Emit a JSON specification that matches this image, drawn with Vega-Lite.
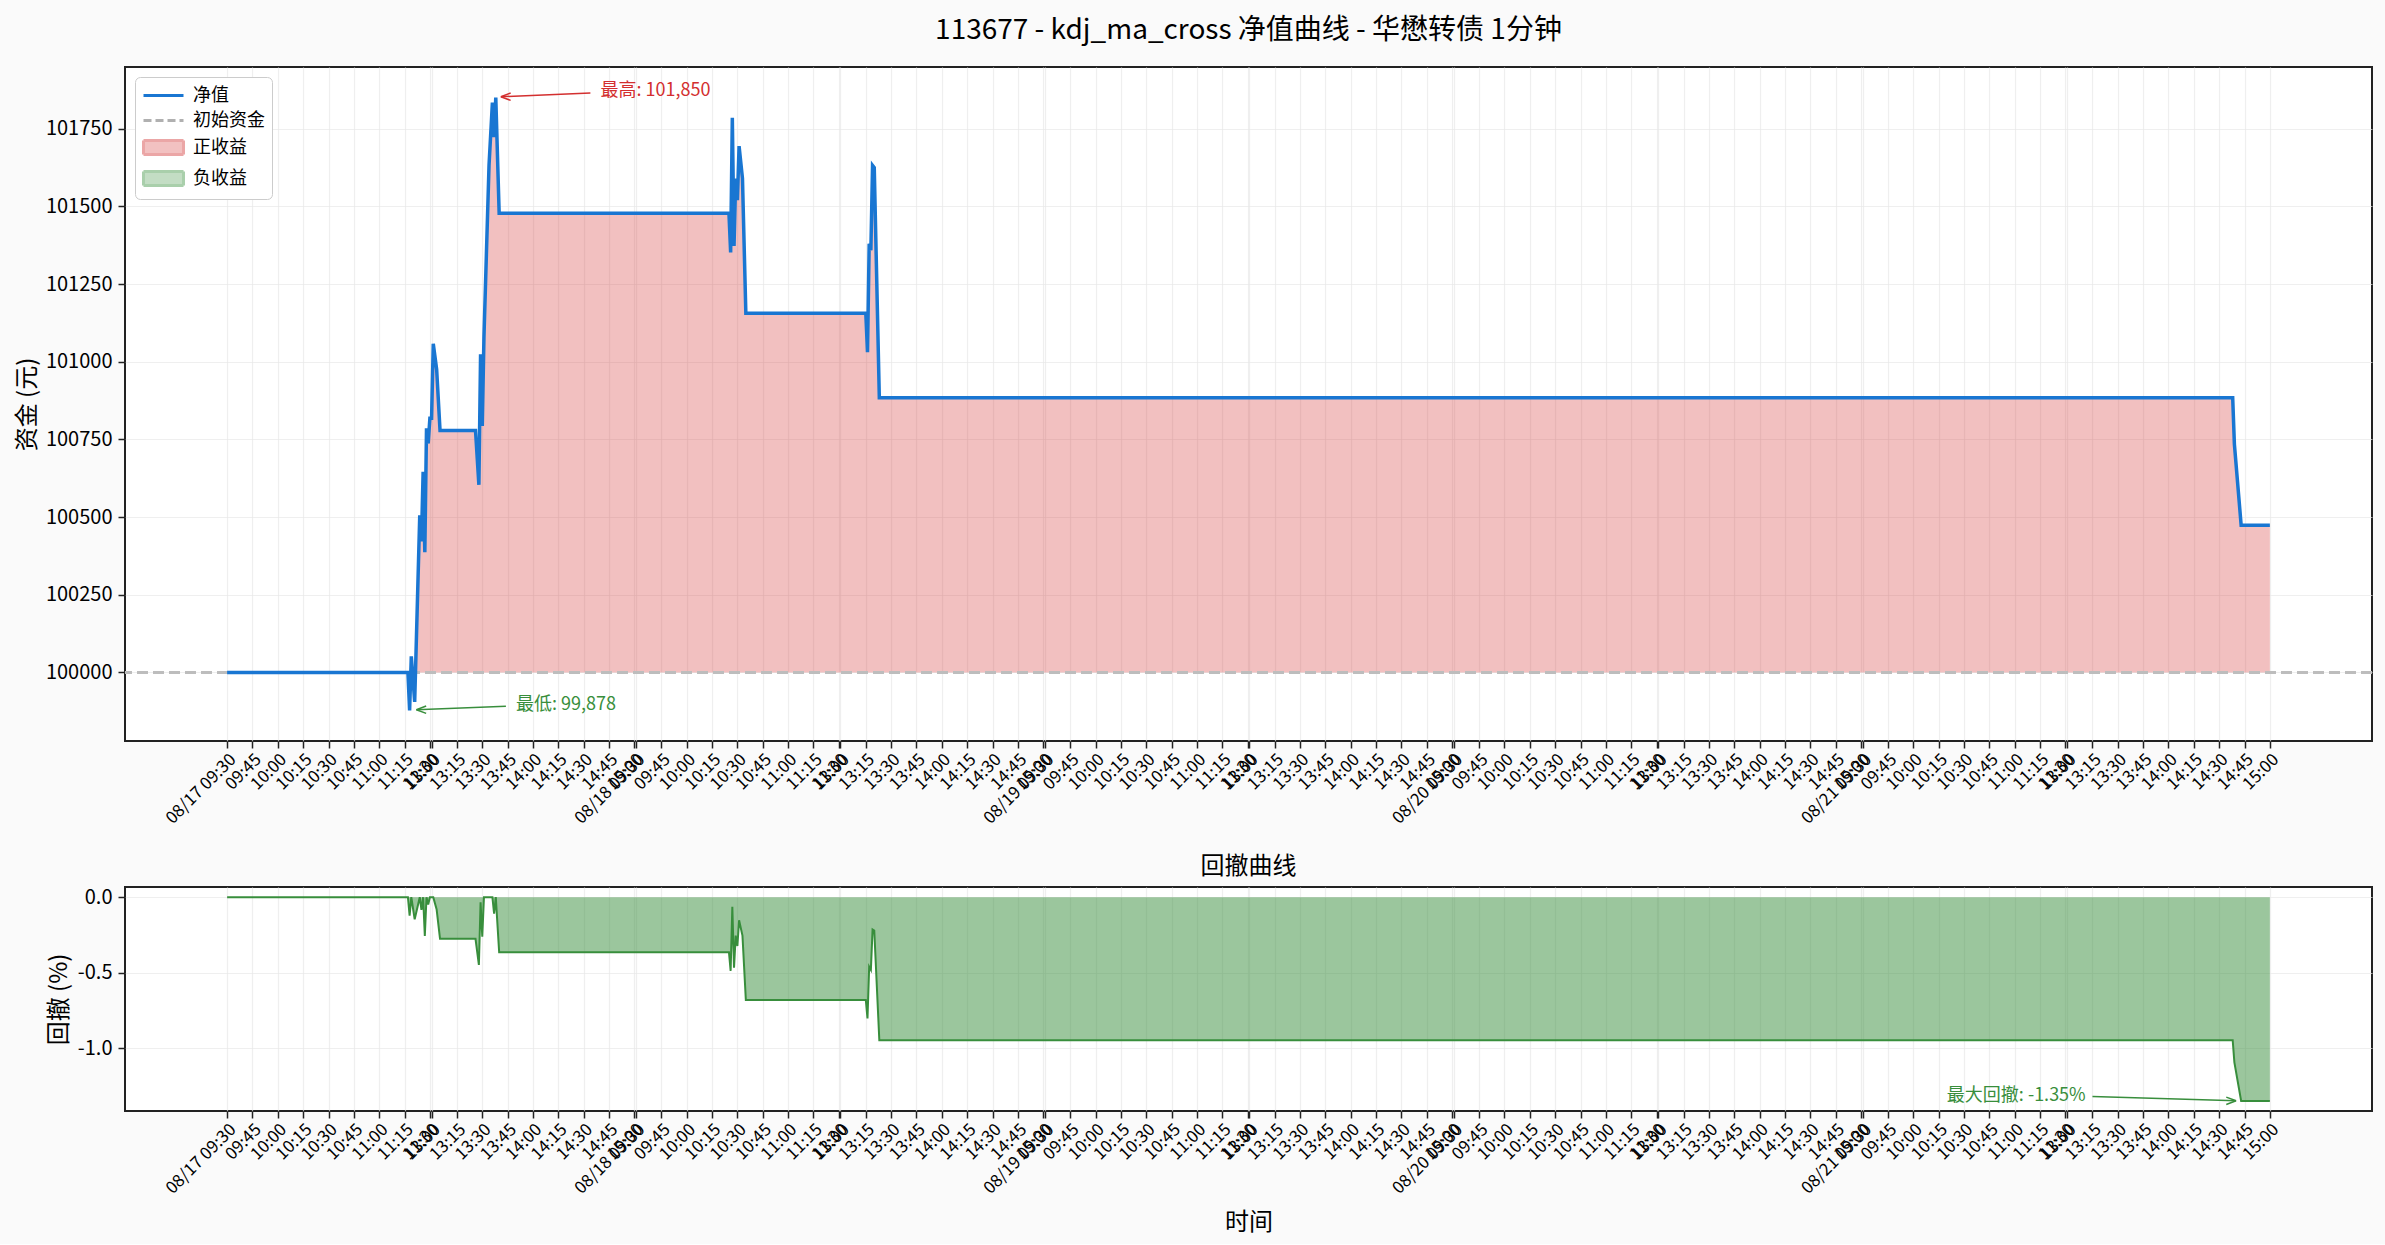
{
  "$schema": "https://vega.github.io/schema/vega-lite/v6.json",
  "background": "#fafafa",
  "padding": {"left": 14, "top": 16, "right": 15, "bottom": 8},
  "datasets": {
    "nav": [
      {"i": 0, "v": 100000, "dd": 0},
      {"i": 107, "v": 100000, "dd": 0},
      {"i": 108, "v": 99878, "dd": -0.122},
      {"i": 109, "v": 100052, "dd": 0},
      {"i": 111, "v": 99905, "dd": -0.147},
      {"i": 114, "v": 100506, "dd": 0},
      {"i": 115, "v": 100422, "dd": -0.084},
      {"i": 116, "v": 100646, "dd": 0},
      {"i": 117, "v": 100387, "dd": -0.257},
      {"i": 118, "v": 100786, "dd": 0},
      {"i": 119, "v": 100737, "dd": -0.049},
      {"i": 120, "v": 100818, "dd": 0},
      {"i": 121, "v": 100818, "dd": 0},
      {"i": 122, "v": 101058, "dd": 0},
      {"i": 124, "v": 100975, "dd": -0.082},
      {"i": 126, "v": 100779, "dd": -0.276},
      {"i": 147, "v": 100779, "dd": -0.276},
      {"i": 149, "v": 100604, "dd": -0.449},
      {"i": 150, "v": 101024, "dd": -0.034},
      {"i": 151, "v": 100793, "dd": -0.262},
      {"i": 152, "v": 101080, "dd": 0},
      {"i": 155, "v": 101632, "dd": 0},
      {"i": 157, "v": 101834, "dd": 0},
      {"i": 158, "v": 101723, "dd": -0.109},
      {"i": 159, "v": 101850, "dd": 0},
      {"i": 161, "v": 101478, "dd": -0.365},
      {"i": 297, "v": 101478, "dd": -0.365},
      {"i": 298, "v": 101352, "dd": -0.489},
      {"i": 299, "v": 101785, "dd": -0.064},
      {"i": 300, "v": 101373, "dd": -0.468},
      {"i": 301, "v": 101590, "dd": -0.255},
      {"i": 302, "v": 101520, "dd": -0.324},
      {"i": 303, "v": 101694, "dd": -0.153},
      {"i": 305, "v": 101590, "dd": -0.255},
      {"i": 307, "v": 101156, "dd": -0.681},
      {"i": 378, "v": 101156, "dd": -0.681},
      {"i": 379, "v": 101031, "dd": -0.804},
      {"i": 380, "v": 101380, "dd": -0.461},
      {"i": 381, "v": 101359, "dd": -0.482},
      {"i": 382, "v": 101632, "dd": -0.214},
      {"i": 383, "v": 101625, "dd": -0.221},
      {"i": 386, "v": 100884, "dd": -0.948},
      {"i": 1187, "v": 100884, "dd": -0.948},
      {"i": 1188, "v": 100735, "dd": -1.095},
      {"i": 1192, "v": 100474, "dd": -1.351},
      {"i": 1209, "v": 100474, "dd": -1.351}
    ],
    "keys": [
      {"k": "净值"},
      {"k": "初始资金"},
      {"k": "正收益"},
      {"k": "负收益"}
    ]
  },
  "spacing": 146,
  "bounds": "flush",
  "vconcat": [
    {
      "width": 2247,
      "height": 674,
      "title": {"text": "113677 - kdj_ma_cross 净值曲线 - 华懋转债 1分钟", "fontSize": 28, "anchor": "middle", "frame": "group", "offset": 22},
      "data": {"name": "nav"},
      "encoding": {
        "x": {
          "field": "i", "type": "quantitative",
          "scale": {"domain": [-60.45, 1269.45], "nice": false, "zero": false},
          "axis": {
            "title": null,
            "values": [0,15,30,45,60,75,90,105,120,121,136,151,166,181,196,211,226,241,242,257,272,287,302,317,332,347,362,363,378,393,408,423,438,453,468,483,484,499,514,529,544,559,574,589,604,605,620,635,650,665,680,695,710,725,726,741,756,771,786,801,816,831,846,847,862,877,892,907,922,937,952,967,968,983,998,1013,1028,1043,1058,1073,1088,1089,1104,1119,1134,1149,1164,1179,1194,1209],
            "labelExpr": "(datum.value % 242 == 0 ? '08/' + (17 + floor(datum.value / 242)) + ' ' : '') + timeFormat(datetime(2024, 0, 1, 0, datum.value % 242 <= 120 ? 570 + datum.value % 242 : 659 + datum.value % 242), '%H:%M')",
            "labelAngle": -45, "labelAlign": "right", "labelBaseline": "top",
            "labelFontSize": 17, "labelOverlap": false, "labelFlush": false, "labelBound": false, "labelPadding": 3
          }
        },
        "y": {
          "field": "v", "type": "quantitative",
          "scale": {"domain": [99779.4, 101948.6], "nice": false, "zero": false},
          "axis": {"title": "资金 (元)", "values": [100000, 100250, 100500, 100750, 101000, 101250, 101500, 101750], "format": "d", "labelFontSize": 20, "titlePadding": 6}
        }
      },
      "layer": [
        {
          "mark": {"type": "area", "color": "#d32f2f", "opacity": 0.3},
          "encoding": {"y2": {"datum": 100000}}
        },
        {
          "mark": {"type": "rule", "color": "#bdbdbd", "strokeDash": [11, 5], "strokeWidth": 3},
          "encoding": {"x": null, "y": {"datum": 100000}}
        },
        {
          "mark": {"type": "line", "color": "#1976d2", "strokeWidth": 3.5}
        },
        {
          "data": {"name": "keys"},
          "mark": {"type": "point", "opacity": 0},
          "encoding": {
            "x": {"datum": 0},
            "y": {"datum": 100000},
            "fill": {
              "field": "k", "type": "nominal",
              "scale": {"domain": ["净值", "初始资金", "正收益", "负收益"], "range": ["transparent", "transparent", "#f2c1c1", "#c3ddc4"]},
              "legend": {
                "title": null, "orient": "top-left", "offset": 10, "padding": 7, "rowPadding": 4,
                "labelFontSize": 18, "labelColor": "#000000", "labelOffset": 28,
                "strokeColor": "#cccccc", "fillColor": "#ffffff", "cornerRadius": 5,
                "symbolSize": 400, "symbolOpacity": 1, "symbolStrokeWidth": 3
              }
            },
            "stroke": {
              "field": "k", "type": "nominal",
              "scale": {"domain": ["净值", "初始资金", "正收益", "负收益"], "range": ["#1976d2", "#b0b0b0", "#eba6a6", "#a9cfab"]},
              "legend": {
                "title": null, "orient": "top-left", "offset": 10, "padding": 7, "rowPadding": 4,
                "labelFontSize": 18, "labelColor": "#000000", "labelOffset": 28,
                "strokeColor": "#cccccc", "fillColor": "#ffffff", "cornerRadius": 5,
                "symbolSize": 400, "symbolOpacity": 1, "symbolStrokeWidth": 3
              }
            },
            "shape": {
              "field": "k", "type": "nominal",
              "scale": {"domain": ["净值", "初始资金", "正收益", "负收益"], "range": ["M-1,0H3", "M-1,0H3", "M-1,-0.7H3V0.7H-1Z", "M-1,-0.7H3V0.7H-1Z"]},
              "legend": {
                "title": null, "orient": "top-left", "offset": 10, "padding": 7, "rowPadding": 4,
                "labelFontSize": 18, "labelColor": "#000000", "labelOffset": 28,
                "strokeColor": "#cccccc", "fillColor": "#ffffff", "cornerRadius": 5,
                "symbolSize": 400, "symbolOpacity": 1, "symbolStrokeWidth": 3
              }
            },
            "strokeDash": {
              "field": "k", "type": "nominal",
              "scale": {"domain": ["净值", "初始资金", "正收益", "负收益"], "range": [[1, 0], [8, 4], [1, 0], [1, 0]]},
              "legend": {
                "title": null, "orient": "top-left", "offset": 10, "padding": 7, "rowPadding": 4,
                "labelFontSize": 18, "labelColor": "#000000", "labelOffset": 28,
                "strokeColor": "#cccccc", "fillColor": "#ffffff", "cornerRadius": 5,
                "symbolSize": 400, "symbolOpacity": 1, "symbolStrokeWidth": 3
              }
            }
          }
        },
        {
          "data": {"values": [{"i": 221, "v": 101870, "t": "最高: 101,850"}]},
          "mark": {"type": "text", "align": "left", "baseline": "middle", "fontSize": 18, "color": "#d32f2f"},
          "encoding": {"text": {"field": "t"}}
        },
        {
          "data": {"values": [{"i": 215, "v": 101865, "i2": 162, "v2": 101853}]},
          "mark": {"type": "rule", "color": "#d32f2f", "strokeWidth": 1.5},
          "encoding": {"x2": {"field": "i2"}, "y2": {"field": "v2"}}
        },
        {
          "data": {"values": [{"i": 162, "v": 101853}]},
          "mark": {"type": "point", "shape": "M0,0L1.6,-0.6M0,0L1.6,0.6", "filled": false, "size": 150, "strokeWidth": 1.5, "color": "#d32f2f", "opacity": 1}
        },
        {
          "data": {"values": [{"i": 171, "v": 99894, "t": "最低: 99,878"}]},
          "mark": {"type": "text", "align": "left", "baseline": "middle", "fontSize": 18, "color": "#388e3c"},
          "encoding": {"text": {"field": "t"}}
        },
        {
          "data": {"values": [{"i": 165, "v": 99891, "i2": 112, "v2": 99880}]},
          "mark": {"type": "rule", "color": "#388e3c", "strokeWidth": 1.5},
          "encoding": {"x2": {"field": "i2"}, "y2": {"field": "v2"}}
        },
        {
          "data": {"values": [{"i": 112, "v": 99880}]},
          "mark": {"type": "point", "shape": "M0,0L1.6,-0.6M0,0L1.6,0.6", "filled": false, "size": 150, "strokeWidth": 1.5, "color": "#388e3c", "opacity": 1}
        }
      ]
    },
    {
      "width": 2247,
      "height": 224,
      "title": {"text": "回撤曲线", "fontSize": 24, "anchor": "middle", "frame": "group", "offset": 8},
      "data": {"name": "nav"},
      "encoding": {
        "x": {
          "field": "i", "type": "quantitative",
          "scale": {"domain": [-60.45, 1269.45], "nice": false, "zero": false},
          "axis": {
            "title": "时间", "titleFontSize": 24, "titlePadding": 14,
            "values": [0,15,30,45,60,75,90,105,120,121,136,151,166,181,196,211,226,241,242,257,272,287,302,317,332,347,362,363,378,393,408,423,438,453,468,483,484,499,514,529,544,559,574,589,604,605,620,635,650,665,680,695,710,725,726,741,756,771,786,801,816,831,846,847,862,877,892,907,922,937,952,967,968,983,998,1013,1028,1043,1058,1073,1088,1089,1104,1119,1134,1149,1164,1179,1194,1209],
            "labelExpr": "(datum.value % 242 == 0 ? '08/' + (17 + floor(datum.value / 242)) + ' ' : '') + timeFormat(datetime(2024, 0, 1, 0, datum.value % 242 <= 120 ? 570 + datum.value % 242 : 659 + datum.value % 242), '%H:%M')",
            "labelAngle": -45, "labelAlign": "right", "labelBaseline": "top",
            "labelFontSize": 17, "labelOverlap": false, "labelFlush": false, "labelBound": false, "labelPadding": 3
          }
        },
        "y": {
          "field": "dd", "type": "quantitative",
          "scale": {"domain": [-1.4175, 0.0675], "nice": false, "zero": false},
          "axis": {"title": "回撤 (%)", "values": [-1, -0.5, 0], "labelExpr": "replace(format(datum.value, '.1f'), '\u2212', '-')", "labelFontSize": 20, "titlePadding": 6}
        }
      },
      "layer": [
        {
          "mark": {"type": "area", "color": "#388e3c", "opacity": 0.5},
          "encoding": {"y2": {"datum": 0}}
        },
        {
          "mark": {"type": "line", "color": "#388e3c", "strokeWidth": 2}
        },
        {
          "data": {"values": [{"i": 1100, "dd": -1.318, "t": "最大回撤: -1.35%"}]},
          "mark": {"type": "text", "align": "right", "baseline": "middle", "fontSize": 18, "color": "#388e3c"},
          "encoding": {"text": {"field": "t"}}
        },
        {
          "data": {"values": [{"i": 1104, "dd": -1.321, "i2": 1189, "d2": -1.35}]},
          "mark": {"type": "rule", "color": "#388e3c", "strokeWidth": 1.5},
          "encoding": {"x2": {"field": "i2"}, "y2": {"field": "d2"}}
        },
        {
          "data": {"values": [{"i": 1189, "dd": -1.35}]},
          "mark": {"type": "point", "shape": "M0,0L-1.6,-0.6M0,0L-1.6,0.6", "filled": false, "size": 150, "strokeWidth": 1.5, "color": "#388e3c", "opacity": 1}
        }
      ]
    }
  ],
  "config": {
    "font": "Noto Sans CJK SC",
    "view": {"fill": "#ffffff", "stroke": "#222222", "strokeWidth": 2},
    "axis": {
      "labelFont": "Noto Sans CJK SC", "labelColor": "#000000", "titleFont": "Noto Sans CJK SC",
      "titleColor": "#000000", "titleFontWeight": "normal", "titleFontSize": 24,
      "tickColor": "#222222", "tickSize": 7, "tickWidth": 1.5, "domain": false,
      "grid": true, "gridColor": "#e8e8e8", "gridOpacity": 0.7, "gridWidth": 1.2,
      "zindex": 1, "labelPadding": 6
    },
    "legend": {"labelFont": "Noto Sans CJK SC"},
    "title": {"font": "Noto Sans CJK SC", "fontWeight": "normal", "color": "#000000"}
  }
}
